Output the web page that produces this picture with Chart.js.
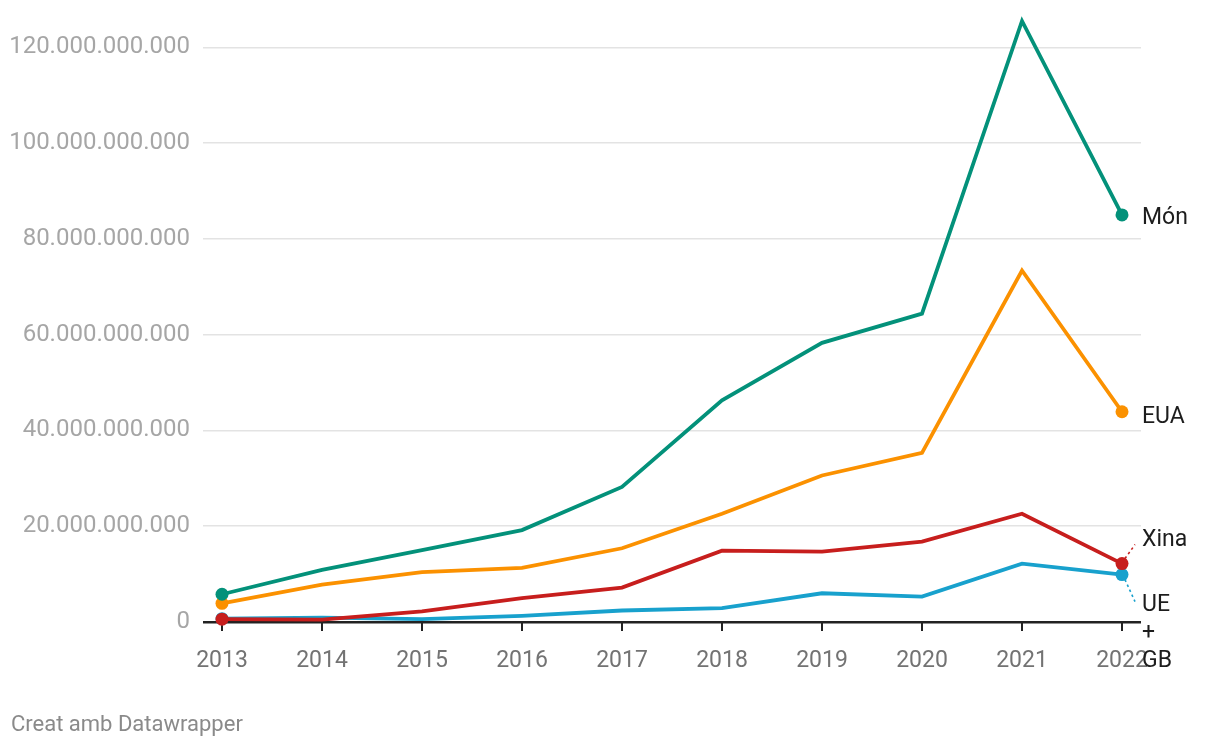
<!DOCTYPE html>
<html><head><meta charset="utf-8">
<script src="https://cdn.jsdelivr.net/npm/chart.js@4"></script>
<style>html,body{margin:0;padding:0;background:#fff}#wrap{width:1220px;height:748px;position:relative}</style>
</head><body><div id="wrap"><canvas id="c" width="1220" height="748"></canvas></div>
<script>
// Data (values in mil milions / billions)
const years = [2013, 2014, 2015, 2016, 2017, 2018, 2019, 2020, 2021, 2022];
const mon  = [5.8, 10.9, 15.0, 19.2, 28.2, 46.3, 58.3, 64.4, 125.5, 85.0];
const eua  = [3.9, 7.8, 10.4, 11.3, 15.4, 22.6, 30.6, 35.3, 73.4, 43.9];
const xina = [0.6, 0.5, 2.2, 5.0, 7.2, 14.9, 14.7, 16.8, 22.6, 12.2];
const ueGb = [0.7, 0.9, 0.6, 1.3, 2.4, 2.9, 6.0, 5.3, 12.2, 9.9];
const yTicks = [0, 20, 40, 60, 80, 100, 120];
const yTickLabels = ['0', '20.000.000.000', '40.000.000.000', '60.000.000.000', '80.000.000.000', '100.000.000.000', '120.000.000.000'];
const seriesNames = [['Món'], ['EUA'], ['Xina'], ['UE', '+', 'GB']];
const colors = ['#03917a', '#fb9100', '#c71e1d', '#18a1cd'];
const footer = 'Creat amb Datawrapper';

const FONT = 'Roboto, "Noto Sans", sans-serif';
const seriesData = [mon, eua, xina, ueGb];

const datasets = seriesData.map((arr, i) => ({
  label: seriesNames[i].join(' '),
  data: arr.map((v, j) => ({x: years[j], y: v})),
  borderColor: colors[i],
  backgroundColor: colors[i],
  pointBackgroundColor: colors[i],
  borderWidth: 3.8,
  borderJoinStyle: 'miter',
  tension: 0,
  clip: false,
  pointBorderWidth: 0,
  pointRadius: ctx => (ctx.dataIndex === 0 || ctx.dataIndex === arr.length - 1) ? 6.5 : 0,
  pointHoverRadius: 0
}));

// label placement (offsets from the end point, in px)
const labelCfg = [
  {dy: 3, connector: false},
  {dy: 5, connector: false},
  {dy: -23, connector: true},
  {dy: 31, connector: true}
];

const endLabels = {
  id: 'endLabels',
  afterDraw(chart) {
    const ctx = chart.ctx;
    const xs = chart.scales.x, ys = chart.scales.y;
    ctx.save();
    seriesData.forEach((arr, i) => {
      const px = xs.getPixelForValue(years[years.length - 1]);
      const py = ys.getPixelForValue(arr[arr.length - 1]);
      const cfg = labelCfg[i];
      const ly = py + cfg.dy;
      if (cfg.connector) {
        ctx.strokeStyle = colors[i];
        ctx.lineWidth = 1.6;
        ctx.setLineDash([2.5, 3]);
        ctx.beginPath();
        const dir = Math.sign(cfg.dy);
        ctx.moveTo(px + 3, py + dir * 5);
        ctx.lineTo(px + 13, ly - dir * 4);
        ctx.stroke();
        ctx.setLineDash([]);
      }
      ctx.fillStyle = '#1d1d1d';
      ctx.font = '23px ' + FONT;
      ctx.textAlign = 'left';
      ctx.textBaseline = 'middle';
      seriesNames[i].forEach((t, k) => ctx.fillText(t, px + 20, ly + k * 28));
    });
    ctx.fillStyle = '#8a8a8a';
    ctx.font = '22px ' + FONT;
    ctx.textAlign = 'left';
    ctx.textBaseline = 'middle';
    ctx.fillText(footer, 11, 725);
    ctx.restore();
  }
};

new Chart(document.getElementById('c'), {
  type: 'line',
  data: {datasets},
  options: {
    responsive: false,
    animation: false,
    devicePixelRatio: 1,
    events: [],
    layout: {padding: {left: 0, right: 79, top: 21, bottom: 66}},
    plugins: {legend: {display: false}, tooltip: {enabled: false}},
    scales: {
      x: {
        type: 'linear',
        min: 2012.81,
        max: 2022.19,
        afterBuildTicks: s => { s.ticks = years.map(v => ({value: v})); },
        afterFit: s => { s.height = 60; s.paddingLeft = 0; s.paddingRight = 0; },
        border: {display: false},
        grid: {drawOnChartArea: false, drawTicks: true, tickLength: 9, tickColor: '#222', lineWidth: 2},
        ticks: {
          autoSkip: false, maxRotation: 0, padding: 16,
          color: '#737373',
          font: {family: FONT, size: 23},
          callback: v => String(v)
        }
      },
      y: {
        min: 0,
        max: 125.5,
        afterBuildTicks: s => { s.ticks = yTicks.map(v => ({value: v})); },
        afterFit: s => { s.width = 203; s.paddingTop = 0; s.paddingBottom = 0; },
        border: {display: false},
        grid: {
          drawTicks: false,
          color: c => (c.tick && c.tick.value === 0) ? '#222' : '#e3e3e3',
          lineWidth: c => (c.tick && c.tick.value === 0) ? 2.5 : 1.5
        },
        ticks: {
          padding: 13,
          color: '#a6a6a6',
          font: {family: FONT, size: 24},
          callback: v => yTickLabels[yTicks.indexOf(v)]
        }
      }
    }
  },
  plugins: [endLabels]
});
</script>
</body></html>
